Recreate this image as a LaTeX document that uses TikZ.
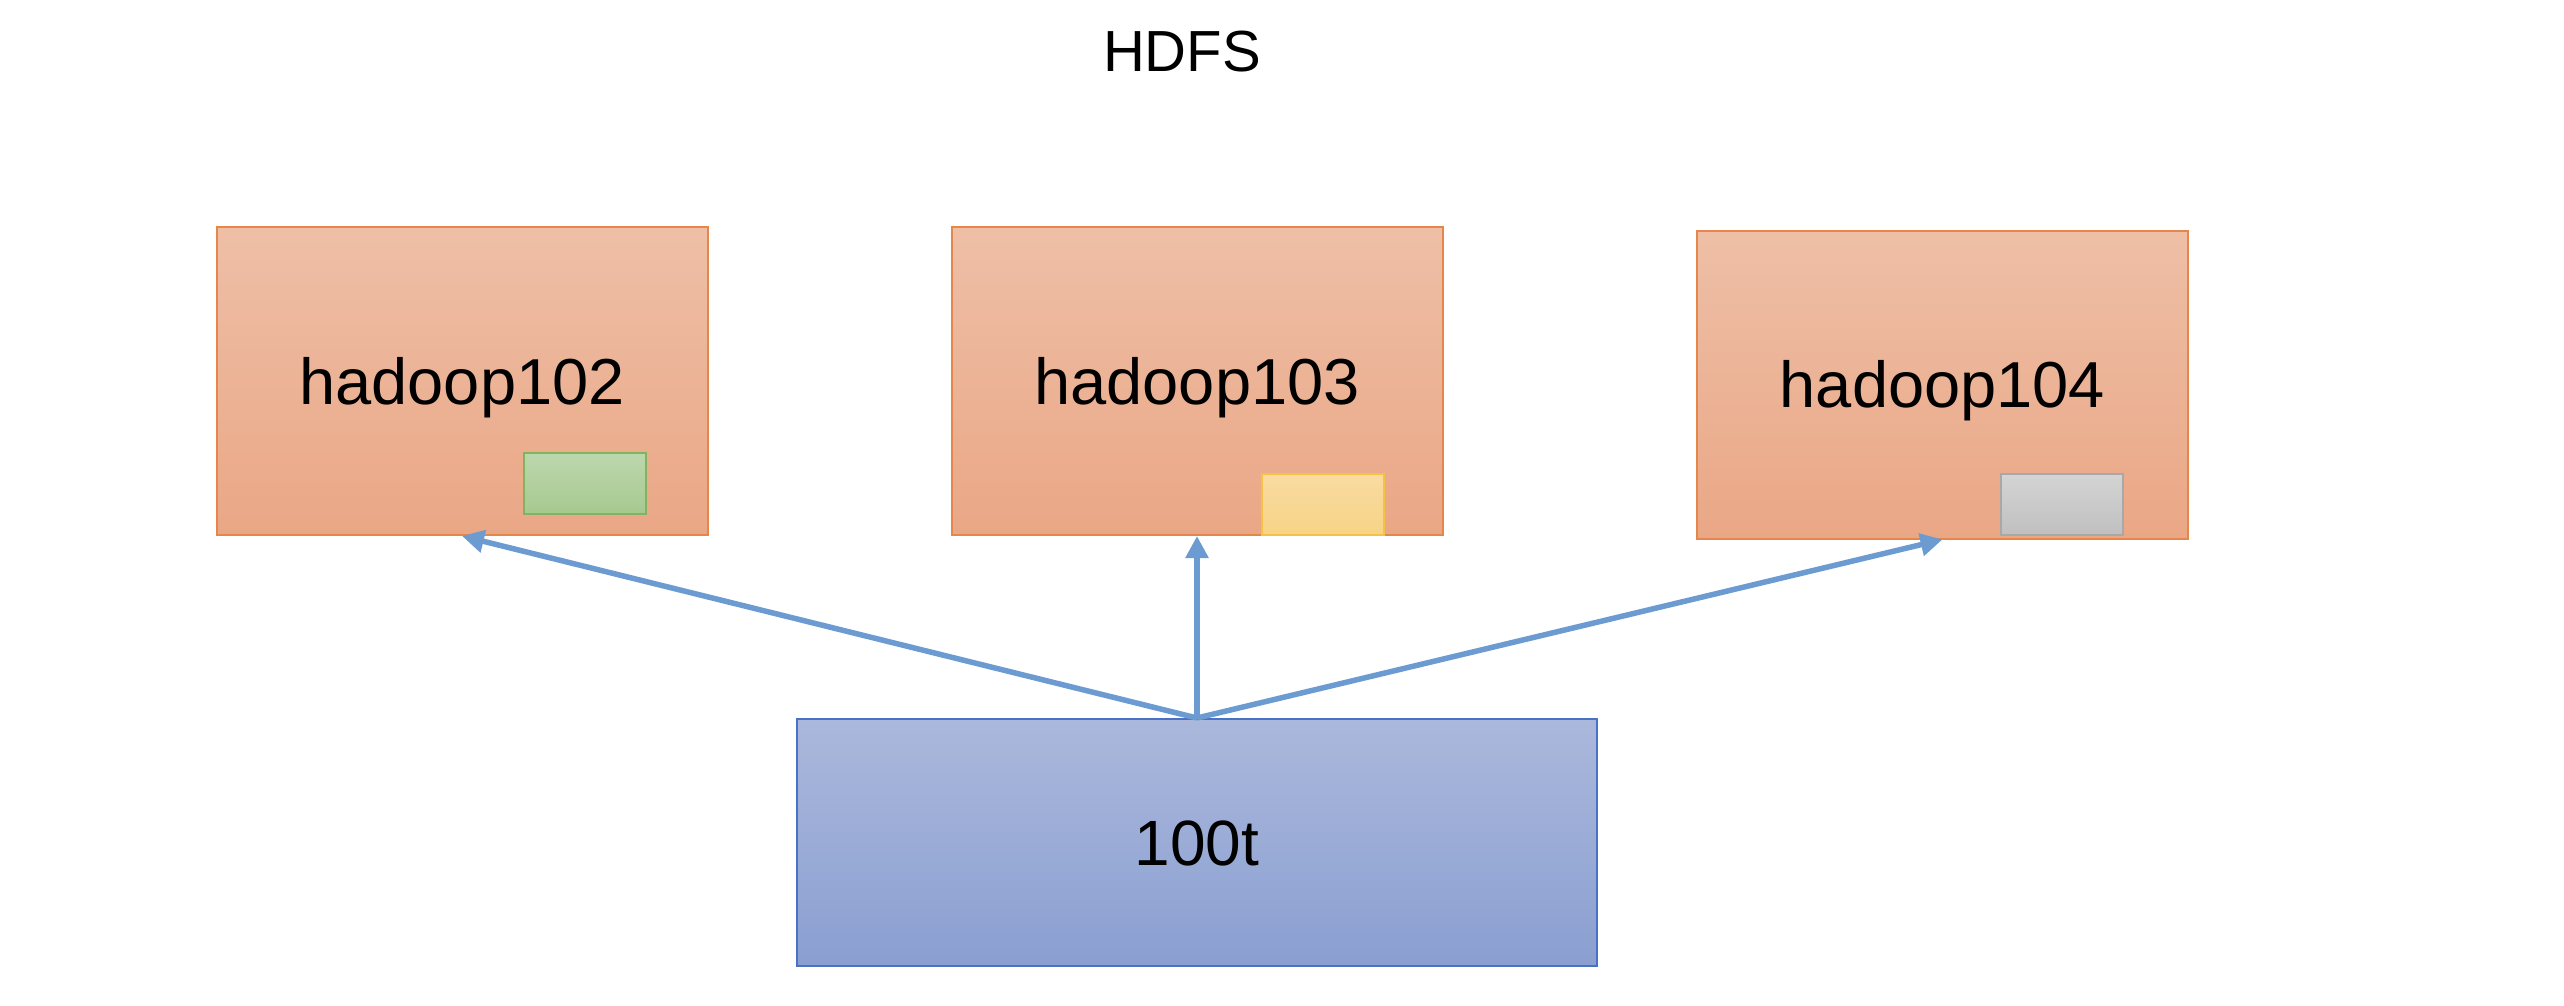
\documentclass[tikz,border=0pt]{standalone}
\usepackage{fontspec}
\setmainfont{Liberation Sans}
\usetikzlibrary{arrows.meta}
\definecolor{orgTop}{HTML}{EEBFA6}
\definecolor{orgBot}{HTML}{EAA786}
\definecolor{orgLine}{HTML}{E5874A}
\definecolor{grnTop}{HTML}{BDD7AE}
\definecolor{grnBot}{HTML}{A6C98F}
\definecolor{grnLine}{HTML}{80B461}
\definecolor{ylwTop}{HTML}{F9DBA2}
\definecolor{ylwBot}{HTML}{F7D486}
\definecolor{ylwLine}{HTML}{F4C245}
\definecolor{gryTop}{HTML}{D4D4D4}
\definecolor{gryBot}{HTML}{C0C0C0}
\definecolor{gryLine}{HTML}{A8A8A8}
\definecolor{bluTop}{HTML}{ABB8DC}
\definecolor{bluBot}{HTML}{8A9FD1}
\definecolor{bluLine}{HTML}{4A72C4}
\definecolor{arrowCol}{HTML}{6C9BD2}
\begin{document}
\begin{tikzpicture}[x=1pt,y=-1pt,
  host/.style={draw=orgLine, line width=2pt, top color=orgTop, bottom color=orgBot,
    minimum width=491pt, minimum height=308pt, inner sep=0pt,
    font=\fontsize{65}{78}\selectfont, text height=46.5pt, text depth=0pt},
  blk/.style={line width=2pt, minimum width=122pt, minimum height=61pt, inner sep=0pt},
  conn/.style={draw=arrowCol, line width=5.5pt, -{Triangle[length=22pt,width=22pt]}}]
\useasboundingbox (0,0) rectangle (2564,1006);
\fill[white] (0,0) rectangle (2564,1006);
\node[font=\fontsize{58}{70}\selectfont, text height=42pt, text depth=0pt, inner sep=0pt] (title) at (1182,51) {HDFS};
\node[host] (h102) at (462,381) {hadoop102};
\node[host] (h103) at (1197,381) {hadoop103};
\node[host] (h104) at (1942.5,384.5) {hadoop104};
\node[blk, draw=grnLine, top color=grnTop, bottom color=grnBot] (b102) at (585,483.5) {};
\node[blk, draw=ylwLine, top color=ylwTop, bottom color=ylwBot] (b103) at (1323,504) {};
\node[blk, draw=gryLine, top color=gryTop, bottom color=gryBot] (b104) at (2062,504) {};
\node[draw=bluLine, line width=2pt, top color=bluTop, bottom color=bluBot,
  minimum width=800pt, minimum height=247pt, inner sep=0pt,
  font=\fontsize{64}{77}\selectfont, text height=46pt, text depth=0pt] (src) at (1197,842.5) {100t};
\draw[conn] (src.north) -- (h102.south);
\draw[conn] (src.north) -- (h103.south);
\draw[conn] (src.north) -- (h104.south);
\end{tikzpicture}
\end{document}
